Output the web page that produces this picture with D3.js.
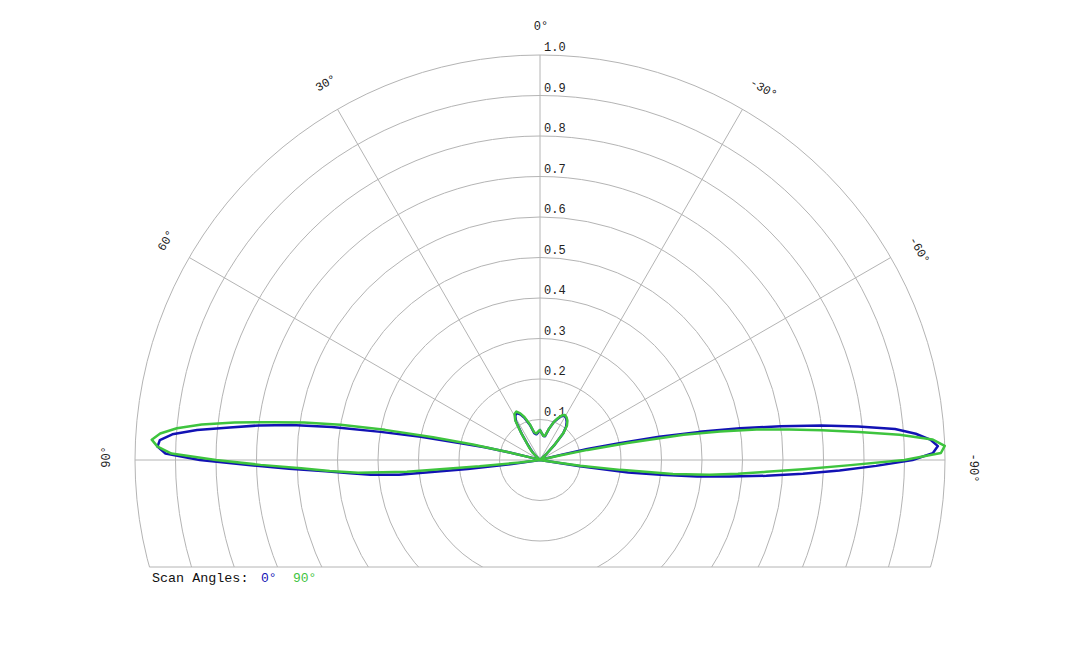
<!DOCTYPE html>
<html>
<head>
<meta charset="utf-8">
<script src="https://cdn.jsdelivr.net/npm/d3@7"></script>
<style>
  html, body { margin: 0; padding: 0; background: #fff; }
  svg { display: block; }
</style>
</head>
<body>
<svg id="chart" width="1080" height="648"></svg>
<script>
// ---- data (angle in degrees, positive = left of 0°) ----
const angles = [
  -100,-99,-98,-97,-96,-95,-94,-93,-92,-91,-90,-89,-88,-87,-86,-85,-84,-83,-82,-81,-80,-79,-78,-77,-76,-75,-74,
  -70,-60,-50,-47,-44,-41,-38,-35,-32,-29,-26,-23,-20,-16,-12,-8,-4,0,4,8,12,16,20,23,26,29,32,35,38,41,44,47,50,60,70,
  74,75,76,77,78,79,80,81,82,83,84,85,86,87,88,89,90,91,92,93,94,95,96,97,98,99,100
];
const scan0 = [
  0,0.10,0.22,0.30,0.39,0.47,0.56,0.65,0.74,0.83,0.92,0.97,0.983,0.965,0.93,0.88,0.79,0.70,0.60,0.50,0.40,0.30,0.20,0.12,0.05,0.01,0,
  0,0,0,0.02,0.05,0.087,0.105,0.115,0.122,0.125,0.12,0.11,0.10,0.08,0.06,0.06,0.066,0.074,0.068,0.064,0.068,0.09,0.11,0.122,0.129,0.126,0.112,0.078,0.052,0.036,0.025,0.01,0,0,0,
  0,0.03,0.08,0.14,0.20,0.30,0.40,0.52,0.62,0.70,0.77,0.85,0.91,0.94,0.945,0.925,0.84,0.72,0.62,0.53,0.47,0.42,0.35,0.18,0.07,0,0
];
const scan90 = [
  0,0.02,0.10,0.20,0.33,0.42,0.49,0.56,0.65,0.76,0.90,0.99,1.0,0.97,0.89,0.79,0.70,0.62,0.54,0.45,0.36,0.22,0.12,0.05,0.01,0,0,
  0,0,0,0.02,0.05,0.088,0.108,0.118,0.124,0.127,0.122,0.112,0.10,0.08,0.062,0.06,0.066,0.074,0.07,0.066,0.07,0.092,0.113,0.125,0.133,0.13,0.115,0.08,0.054,0.04,0.028,0.01,0,0,0,
  0,0.02,0.08,0.17,0.27,0.39,0.50,0.59,0.67,0.76,0.84,0.90,0.94,0.96,0.945,0.91,0.80,0.69,0.59,0.52,0.45,0.33,0.15,0.05,0,0,0
];
const radialTicks = [0.1,0.2,0.3,0.4,0.5,0.6,0.7,0.8,0.9,1.0];
const angleTicks = [0,30,60,90,-30,-60,-90];
const seriesNames = ["0°","90°"];
const seriesColors = ["#1212b4","#3ec43e"];

// ---- layout ----
const cx = 540, cy = 460, R = 405, clipY = 107;
const svg = d3.select("#chart");
const g = svg.append("g").attr("transform", `translate(${cx},${cy})`);
const r = d3.scaleLinear().domain([0,1]).range([0,R]);
const toRad = d => -d * Math.PI / 180;
const fontMono = "'Liberation Mono','Courier New',monospace";

svg.append("defs").append("clipPath").attr("id","clip")
  .append("rect").attr("x",-R-5).attr("y",-R-5).attr("width",2*R+10).attr("height",R+5+clipY);

const grid = g.append("g").attr("clip-path","url(#clip)");
grid.selectAll("circle").data(radialTicks).join("circle")
  .attr("r", d => r(d)).attr("fill","none").attr("stroke","#b4b4b4").attr("stroke-width",1);

const xEnd = Math.sqrt(R*R - clipY*clipY);
g.append("line").attr("x1",-xEnd).attr("x2",xEnd).attr("y1",clipY).attr("y2",clipY)
  .attr("stroke","#b4b4b4").attr("stroke-width",1);

g.selectAll("line.spoke").data(angleTicks).join("line").attr("class","spoke")
  .attr("x1",0).attr("y1",0)
  .attr("x2", d => r(1)*Math.sin(toRad(d)))
  .attr("y2", d => -r(1)*Math.cos(toRad(d)))
  .attr("stroke","#b4b4b4").attr("stroke-width",1);

g.selectAll("text.rtick").data(radialTicks).join("text").attr("class","rtick")
  .attr("x",4).attr("y", d => -r(d)-4)
  .attr("font-family",fontMono).attr("font-size",12)
  .attr("fill","#222").text(d => d3.format(".1f")(d));

const labR = 433;
g.selectAll("text.atick").data(angleTicks).join("text").attr("class","atick")
  .attr("transform", d => {
    const a = toRad(d);
    const x = labR*Math.sin(a), y = -labR*Math.cos(a);
    return `translate(${x},${y}) rotate(${-d})`;
  })
  .attr("x", d => d === 0 ? 1 : (d > 0 ? 3 : 8))
  .attr("text-anchor","middle").attr("dominant-baseline","middle")
  .attr("font-family",fontMono).attr("font-size",12)
  .attr("fill","#222").text(d => d + "°");

// ---- curves ----
const line = d3.lineRadial().angle(d => toRad(d[0])).radius(d => r(d[1]));
[scan0, scan90].forEach((vals, i) => {
  g.append("path")
    .datum(angles.map((a, j) => [a, vals[j]]))
    .attr("d", line).attr("fill","none")
    .attr("stroke", seriesColors[i]).attr("stroke-width",2.5)
    .attr("stroke-linejoin","round");
});

// ---- legend ----
const legX = [261, 293];
svg.append("text").attr("x",152).attr("y",582)
  .attr("font-family",fontMono).attr("font-size",13.4)
  .attr("fill","#111").text("Scan Angles:");
svg.selectAll("text.leg").data(seriesNames).join("text").attr("class","leg")
  .attr("x", (d,i) => legX[i]).attr("y",582)
  .attr("font-family",fontMono).attr("font-size",13)
  .attr("fill", (d,i) => seriesColors[i]).text(d => d);
</script>
</body>
</html>
